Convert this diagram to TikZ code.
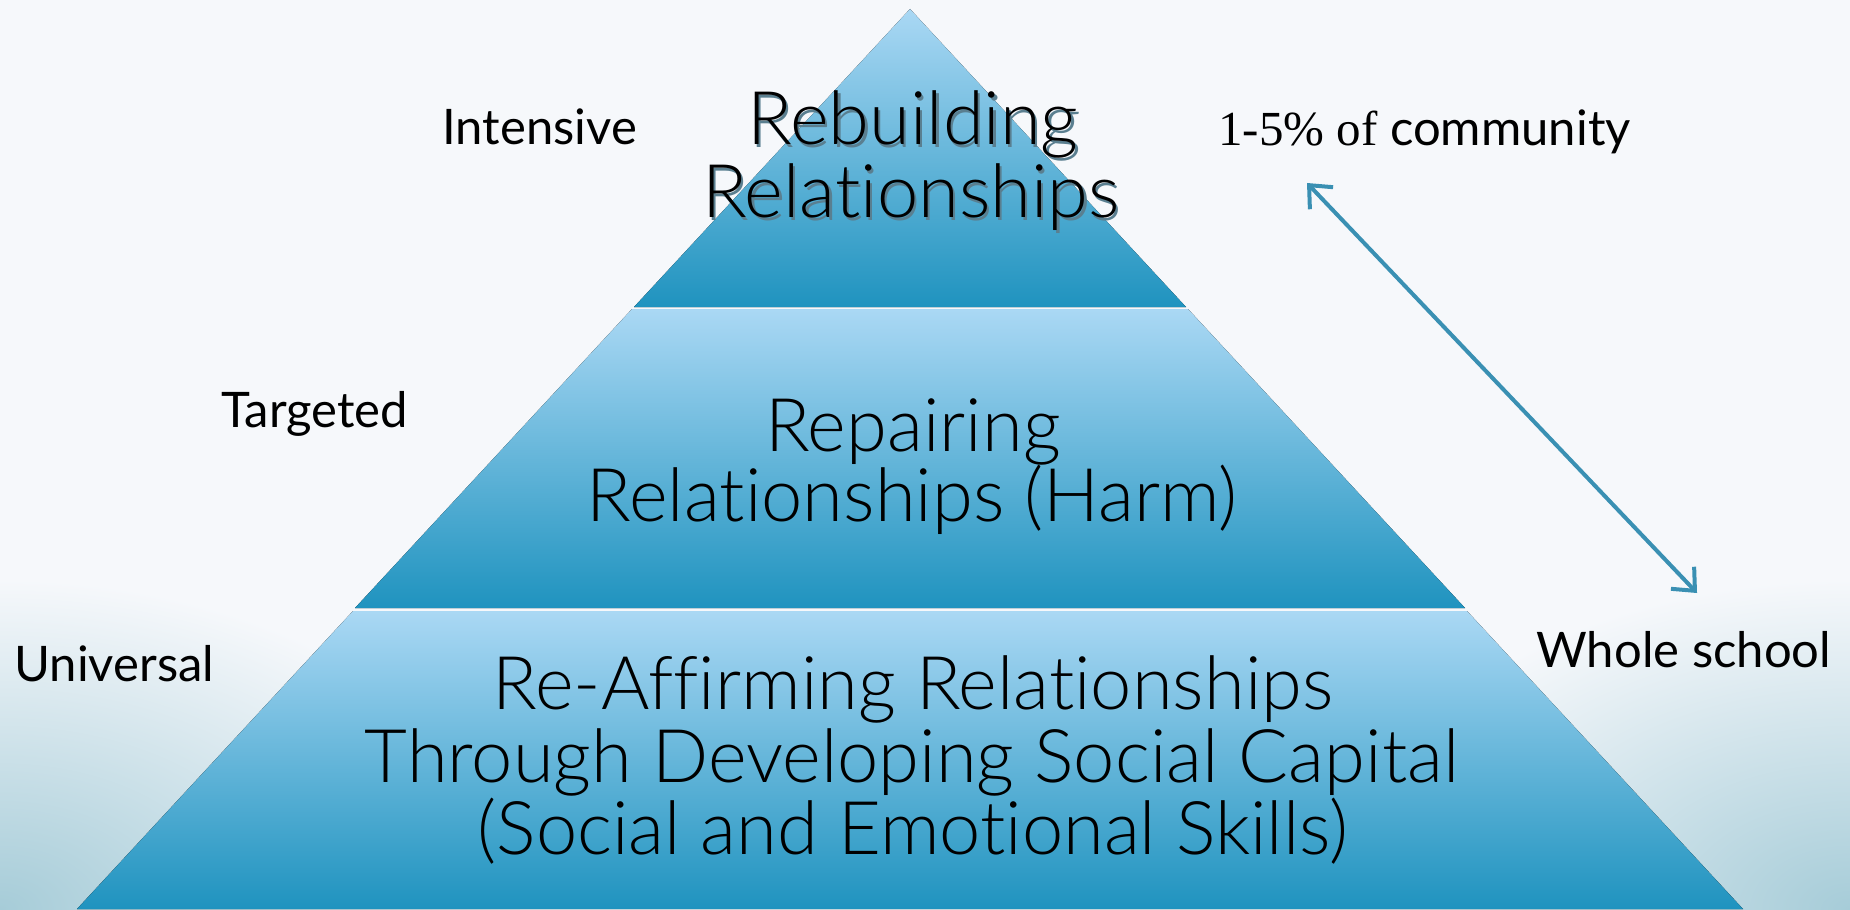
\documentclass[tikz,border=0pt]{standalone}
\usepackage{fontspec}
\setmainfont{Lato}[UprightFont=* Light,Ligatures={NoCommon}]
\newfontfamily\labelfont{Lato}[Ligatures={NoCommon}]
\newfontfamily\serifpart{Liberation Serif}
\usetikzlibrary{arrows.meta}
\definecolor{bgmain}{HTML}{F6F8FB}
\definecolor{tierlight}{HTML}{AAD8F4}
\definecolor{tierdark}{HTML}{1F93BF}
\definecolor{arrowblue}{HTML}{3A90B3}
\definecolor{swoosh}{HTML}{A6CCD8}
\definecolor{shadowcol}{HTML}{5A7F90}
\newcommand{\withshadow}[1]{\rlap{\hspace{1.2pt}\raisebox{-1.4pt}{\color{shadowcol}#1}}#1}
\begin{document}
\begin{tikzpicture}[x=0.5pt,y=-0.5pt,
  tier/.style={top color=tierlight,bottom color=tierdark,draw=none},
  maintext/.style={anchor=base,inner sep=0pt,text=black,font=\fontsize{37}{37}\selectfont},
  sidetext/.style={anchor=base west,inner sep=0pt,text=black,font=\labelfont\fontsize{24.5}{24.5}\selectfont},
  spanarrow/.style={draw=arrowblue,line width=2pt,{Straight Barb[length=9pt,width=16pt,line width=2pt]}-{Straight Barb[length=9pt,width=16pt,line width=2pt]}}
]
\useasboundingbox (0,0) rectangle (1850,909);
% background
\fill[bgmain] (0,0) rectangle (1850,909);
\begin{scope}
  \clip (0,0) rectangle (1850,909);
  \shade[inner color=swoosh,outer color=bgmain] (0,909) ellipse [x radius=520, y radius=330];
  \shade[inner color=swoosh,outer color=bgmain] (1850,909) ellipse [x radius=520, y radius=330];
\end{scope}
% pyramid tiers
\fill[tier] (910,9) -- (1186,307) -- (634,307) -- cycle;
\fill[tier] (632,309) -- (1188,309) -- (1465,608) -- (355,608) -- cycle;
\fill[tier] (353,611) -- (1467,611) -- (1743,909) -- (77,909) -- cycle;
% tier 1 text with shadow
\node[maintext] (t1a) at (913,145) {\withshadow{Rebuilding}};
\node[maintext] (t1b) at (911,218) {\withshadow{Relationships}};
% tier 2 text
\node[maintext] (t2a) at (913,451) {Repairing};
\node[maintext] (t2b) at (912,521) {Relationships (Harm)};
% tier 3 text
\node[maintext] (t3a) at (913,709) {Re-Affirming Relationships};
\node[maintext] (t3b) at (912,782) {Through Developing Social Capital};
\node[maintext] (t3c) at (913,854) {(Social and Emotional Skills)};
% side labels
\node[sidetext] (lint) at (442,145) {Intensive};
\node[sidetext] (ltar) at (221,427) {Targeted};
\node[sidetext] (luni) at (14,681) {Universal};
\node[sidetext] (lwho) at (1536,667) {Whole school};
\node[sidetext] (lpct) at (1218,146) {{\serifpart 1-5\% of} community};
% arrow
\coordinate (atop) at (1307,183);
\coordinate (abot) at (1697,593);
\draw[spanarrow] (atop) -- (abot);
\end{tikzpicture}
\end{document}
